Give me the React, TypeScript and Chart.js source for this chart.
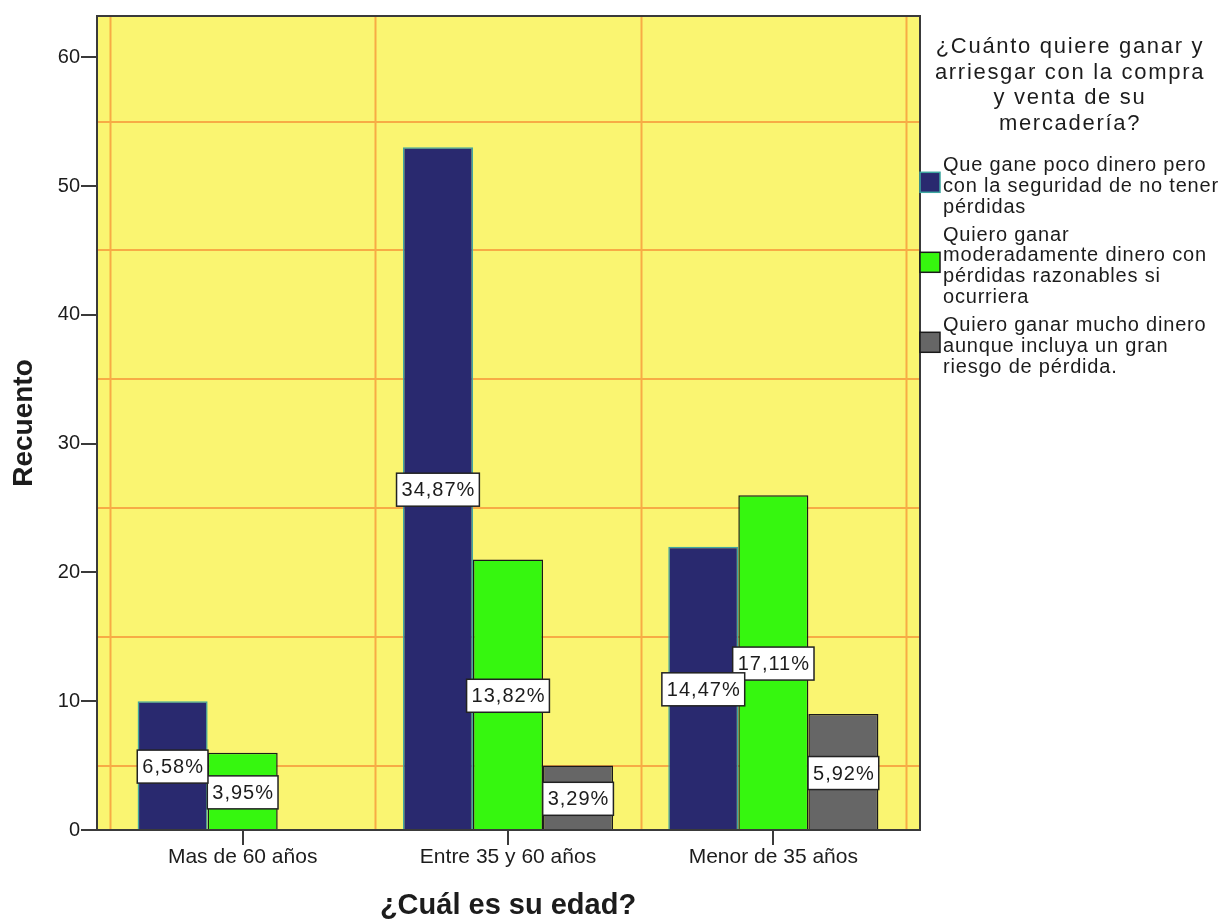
import React, { useEffect, useRef } from 'react';
import { Chart, registerables } from 'chart.js';

Chart.register(...registerables);

// Age groups (x categories)
const CATEGORIES = ['Mas de 60 años', 'Entre 35 y 60 años', 'Menor de 35 años'];

// Legend labels, already broken into lines
const SERIES_LINES = [
  ['Que gane poco dinero pero', 'con la seguridad de no tener', 'pérdidas'],
  ['Quiero ganar', 'moderadamente dinero con', 'pérdidas razonables si', 'ocurriera'],
  ['Quiero ganar mucho dinero', 'aunque incluya un gran', 'riesgo de pérdida.'],
];

// Counts per age group
const POCO_RIESGO = [10, 53, 22];
const MODERADO = [6, 21, 26];
const MUCHO_RIESGO = [0, 5, 9];

const Y_TICKS = [0, 10, 20, 30, 40, 50, 60];
const Y_GRID = [5, 15, 25, 35, 45, 55];
const Y_MAX = 63.2;

const LEGEND_TITLE_LINES = ['¿Cuánto quiere ganar y', 'arriesgar con la compra', 'y venta de su', 'mercadería?'];
const X_TITLE = '¿Cuál es su edad?';
const Y_TITLE = 'Recuento';

const FONT = '"Liberation Sans", Arial, Helvetica, sans-serif';
const TEXT = '#1c1c1c';
const PLOT_BG = '#faf571';
const GRID = '#f7ab45';
const FRAME = '#3a3a3a';
const FILL = ['#29296f', '#36f70f', '#666666'];
const EDGE = ['#3ea6a0', '#1a1a1a', '#1a1a1a'];

const SERIES = [POCO_RIESGO, MODERADO, MUCHO_RIESGO];
const TOTAL = SERIES.reduce((s, arr) => s + arr.reduce((a, b) => a + b, 0), 0);
const pct = (v: number) => ((v / TOTAL) * 100).toFixed(2).replace('.', ',') + '%';

const PAD_L = 13;
const PAD_R = 14;

const spssPlugin = {
  id: 'spssFrame',
  beforeDatasetsDraw(chart: any) {
    const { ctx, chartArea: a, scales } = chart;
    const xs = scales.x;
    const ys = scales.y;
    const L = a.left - PAD_L;
    const R = a.right + PAD_R;
    ctx.save();
    ctx.fillStyle = PLOT_BG;
    ctx.fillRect(L, a.top, R - L, a.bottom - a.top);
    ctx.strokeStyle = GRID;
    ctx.lineWidth = 2;
    ctx.beginPath();
    Y_GRID.forEach((v) => {
      const py = Math.round(ys.getPixelForValue(v));
      ctx.moveTo(L, py);
      ctx.lineTo(R, py);
    });
    const step = xs.getPixelForValue(1) - xs.getPixelForValue(0);
    for (let i = 0; i <= CATEGORIES.length; i++) {
      const px = Math.round(xs.getPixelForValue(0) - step / 2 + i * step) + 0.5;
      ctx.moveTo(px, a.top);
      ctx.lineTo(px, a.bottom);
    }
    ctx.stroke();
    ctx.restore();
  },
  afterDatasetsDraw(chart: any) {
    const { ctx, chartArea: a, scales } = chart;
    const xs = scales.x;
    const ys = scales.y;
    const L = a.left - PAD_L;
    const R = a.right + PAD_R;
    ctx.save();
    // frame
    ctx.strokeStyle = FRAME;
    ctx.lineWidth = 2;
    ctx.strokeRect(L, a.top, R - L, a.bottom - a.top);
    // tick marks
    ctx.beginPath();
    Y_TICKS.forEach((v) => {
      const py = Math.round(ys.getPixelForValue(v));
      ctx.moveTo(L - 16, py);
      ctx.lineTo(L, py);
    });
    CATEGORIES.forEach((_, i) => {
      const px = Math.round(xs.getPixelForValue(i));
      ctx.moveTo(px, a.bottom);
      ctx.lineTo(px, a.bottom + 15);
    });
    ctx.stroke();

    // percentage labels (blue series drawn last, on top)
    ctx.font = `20px ${FONT}`;
    (ctx as any).letterSpacing = '1px';
    ctx.textAlign = 'center';
    ctx.textBaseline = 'middle';
    for (let di = SERIES.length - 1; di >= 0; di--) {
      const meta = chart.getDatasetMeta(di);
      meta.data.forEach((bar: any, i: number) => {
        const v = SERIES[di][i];
        if (!v) return;
        const text = pct(v);
        const w = ctx.measureText(text).width + 9;
        const h = 33;
        const cx = bar.x;
        const cy = (bar.y + bar.base) / 2 + 1;
        ctx.fillStyle = '#ffffff';
        ctx.fillRect(cx - w / 2, cy - h / 2, w, h);
        ctx.strokeStyle = '#222222';
        ctx.lineWidth = 1.5;
        ctx.strokeRect(cx - w / 2, cy - h / 2, w, h);
        ctx.fillStyle = TEXT;
        ctx.fillText(text, cx + 0.5, cy + 1);
      });
    }
    ctx.restore();
  },
  afterDraw(chart: any) {
    const { ctx, chartArea: a } = chart;
    const legendLeft = a.right + PAD_R;
    ctx.save();
    // legend title
    ctx.fillStyle = TEXT;
    ctx.font = `22px ${FONT}`;
    (ctx as any).letterSpacing = '1.7px';
    ctx.textAlign = 'center';
    ctx.textBaseline = 'alphabetic';
    LEGEND_TITLE_LINES.forEach((line, i) => {
      ctx.fillText(line, legendLeft + 150, 53 + i * 25.7);
    });
    // legend items
    ctx.font = `20px ${FONT}`;
    (ctx as any).letterSpacing = '0.8px';
    ctx.textAlign = 'left';
    const lineH = 20.8;
    let base = 171;
    SERIES_LINES.forEach((lines, si) => {
      const first = base;
      lines.forEach((line, j) => {
        ctx.fillStyle = TEXT;
        ctx.fillText(line, legendLeft + 23, base + j * lineH);
      });
      const last = base + (lines.length - 1) * lineH;
      const cy = (first + last) / 2 - 9.5;
      ctx.fillStyle = FILL[si];
      ctx.fillRect(legendLeft, cy - 10, 20, 20);
      ctx.strokeStyle = EDGE[si];
      ctx.lineWidth = 1.5;
      ctx.strokeRect(legendLeft, cy - 10, 20, 20);
      base = last + 28;
    });
    ctx.restore();
  },
};

export default function App() {
  const canvasRef = useRef<HTMLCanvasElement | null>(null);

  useEffect(() => {
    const canvas = canvasRef.current;
    if (!canvas) return;
    const chart = new Chart(canvas, {
      type: 'bar',
      data: {
        labels: CATEGORIES,
        datasets: SERIES.map((data, i) => ({
          label: SERIES_LINES[i].join(' '),
          data,
          backgroundColor: FILL[i],
          borderColor: EDGE[i],
          borderWidth: (c: any) => (c.raw ? 1.5 : 0),
          categoryPercentage: 0.792,
          barPercentage: 1,
        })),
      },
      options: {
        animation: false,
        responsive: false,
        devicePixelRatio: 1,
        layout: { padding: { top: 16, right: 317, left: 0, bottom: 0 } },
        plugins: {
          legend: { display: false },
          tooltip: { enabled: false },
        },
        scales: {
          x: {
            type: 'category',
            offset: true,
            grid: { display: false, drawTicks: false },
            border: { display: false },
            ticks: {
              padding: 15,
              autoSkip: false,
              maxRotation: 0,
              color: TEXT,
              font: { size: 21, family: FONT },
            },
            title: {
              display: true,
              text: X_TITLE,
              color: TEXT,
              padding: 0,
              font: { size: 29, weight: 'bold', family: FONT, lineHeight: 1 },
            },
            afterFit: (s: any) => {
              s.height = 90;
              s.paddingLeft = 0;
              s.paddingRight = 0;
            },
          },
          y: {
            type: 'linear',
            min: 0,
            max: Y_MAX,
            grid: { display: false, drawTicks: false },
            border: { display: false },
            ticks: {
              padding: 30,
              color: TEXT,
              font: { size: 20, family: FONT },
            },
            afterBuildTicks: (s: any) => {
              s.ticks = Y_TICKS.map((v) => ({ value: v }));
            },
            title: {
              display: true,
              text: Y_TITLE,
              color: TEXT,
              padding: { top: 10, bottom: 0 },
              font: { size: 28, weight: 'bold', family: FONT, lineHeight: 1 },
            },
            afterFit: (s: any) => {
              s.width = 110;
              s.paddingTop = 0;
              s.paddingBottom = 0;
            },
          },
        },
      } as any,
      plugins: [spssPlugin],
    });
    return () => chart.destroy();
  }, []);

  return (
    <div style={{ position: 'absolute', left: 0, top: 0, width: 1223, height: 920, background: '#ffffff' }}>
      <canvas ref={canvasRef} width={1223} height={920} />
    </div>
  );
}
